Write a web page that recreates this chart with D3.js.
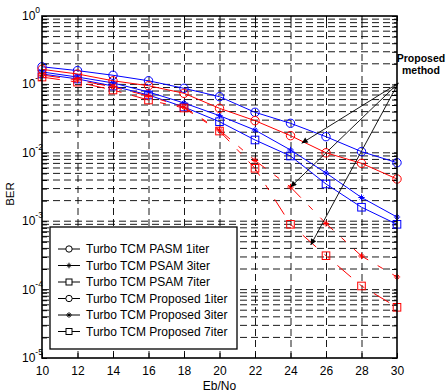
<!DOCTYPE html>
<html><head><meta charset="utf-8">
<script src="https://cdn.jsdelivr.net/npm/d3@7"></script>
<style>
body{margin:0;background:#fff}
svg{display:block}
text{font-family:"Liberation Sans",Arial,sans-serif;fill:#000}
</style>
</head><body>
<svg id="c" width="447" height="392"></svg>
<script>
// ---------------- data ----------------
const ebno = [10, 12, 14, 16, 18, 20, 22, 24, 26, 28, 30];
const pasm1 = [0.181, 0.159, 0.136, 0.113, 0.0877, 0.0661, 0.0391, 0.0270, 0.0172, 0.0104, 0.00717];
const pasm3 = [0.152, 0.128, 0.105, 0.0774, 0.0535, 0.0349, 0.0215, 0.0110, 0.00507, 0.00222, 0.00115];
const pasm7 = [0.142, 0.120, 0.0947, 0.0700, 0.0467, 0.0285, 0.0154, 0.00898, 0.00350, 0.00160, 0.000901];
const prop1 = [0.166, 0.142, 0.113, 0.0957, 0.0741, 0.0447, 0.0295, 0.0178, 0.0100, 0.00702, 0.00414];
const prop3 = [0.137, 0.116, 0.0916, 0.0677, 0.0467, 0.0215, 0.00772, 0.00316, 0.000926, 0.000310, 0.000153];
const prop7 = [0.128, 0.108, 0.0828, 0.0591, 0.0452, 0.0208, 0.00594, 0.000901, 0.000313, 0.000113, 0.0000551];

const xTicks = [10, 12, 14, 16, 18, 20, 22, 24, 26, 28, 30];
const yExponents = [0, -1, -2, -3, -4, -5];
const legendLabels = [
  "Turbo TCM PASM 1iter",
  "Turbo TCM PSAM 3iter",
  "Turbo TCM PSAM 7iter",
  "Turbo TCM Proposed 1iter",
  "Turbo TCM Proposed 3iter",
  "Turbo TCM Proposed 7iter"
];
const annotationLines = ["Proposed", "method"];
// annotation arrows in data space: origin and targets
const arrowFrom = [30.07, 0.104];
const arrowTo = [[24.63, 0.0138], [24.0, 0.00316], [25.14, 0.000449]];

// ---------------- setup ----------------
const series = [
  {vals: pasm1, color: "#0000ff", marker: "circle", dash: null},
  {vals: pasm3, color: "#0000ff", marker: "star", dash: null},
  {vals: pasm7, color: "#0000ff", marker: "square", dash: null},
  {vals: prop1, color: "#ff0000", marker: "circle", dash: null},
  {vals: prop3, color: "#ff0000", marker: "star", dash: "18,11,6,11"},
  {vals: prop7, color: "#ff0000", marker: "square", dash: "18,11,6,11"}
];

const svg = d3.select("#c");
const L = 42, R = 397, T = 16, B = 358;
const x = d3.scaleLinear().domain([10, 30]).range([L, R]);
const y = d3.scaleLog().domain([1e-5, 1]).range([B, T]);

const allY = [];
for (let e = -5; e < 0; e++) for (let k = 1; k < 10; k++) allY.push(k * Math.pow(10, e));
allY.push(1);

// ---------------- grid ----------------
const grid = svg.append("g").attr("stroke", "#000").attr("stroke-width", 0.9).attr("stroke-dasharray", "7,4");
grid.selectAll("line.h").data(allY.filter(v => v > 1.0001e-5 && v < 0.9999)).enter().append("line")
  .attr("x1", L).attr("x2", R).attr("y1", d => y(d)).attr("y2", d => y(d));
grid.selectAll("line.v").data(xTicks.filter(v => v > 10 && v < 30)).enter().append("line")
  .attr("x1", d => x(d) + 0.5).attr("x2", d => x(d) + 0.5).attr("y1", B).attr("y2", T);

// ---------------- axes (ticks inward) ----------------
const axB = svg.append("g").attr("transform", `translate(0,${B})`)
  .call(d3.axisBottom(x).tickValues(xTicks).tickSize(-5).tickPadding(8).tickFormat(d3.format("d")));
const axT = svg.append("g").attr("transform", `translate(0,${T})`)
  .call(d3.axisTop(x).tickValues(xTicks).tickSize(-5).tickFormat(""));
const axL = svg.append("g").attr("transform", `translate(${L},0)`)
  .call(d3.axisLeft(y).tickValues(allY).tickSize(-5).tickFormat(""));
const axR = svg.append("g").attr("transform", `translate(${R},0)`)
  .call(d3.axisRight(y).tickValues(allY).tickSize(-5).tickFormat(""));
[axB, axT, axL, axR].forEach(a => {
  a.select(".domain").remove();
  a.selectAll(".tick line").attr("stroke", "#000").attr("stroke-width", 1);
});
axB.selectAll(".tick text").attr("font-size", 12).attr("font-family", "Liberation Sans, Arial, sans-serif");

// y tick labels 10^e
const yl = svg.append("g");
yExponents.forEach(e => {
  const t = yl.append("text").attr("x", 22).attr("y", y(Math.pow(10, e)) + 4).attr("font-size", 12);
  t.append("tspan").text("10");
  t.append("tspan").attr("dy", -7).attr("font-size", 8.5).text(e === 0 ? "0" : "-" + Math.abs(e));
});

// axis labels
svg.append("text").attr("x", (L + R) / 2).attr("y", 390).attr("text-anchor", "middle")
  .attr("font-size", 12).text("Eb/No");
svg.append("text").attr("transform", `translate(14,${(T + B) / 2 + 7}) rotate(-90)`)
  .attr("text-anchor", "middle").attr("font-size", 11.5).text("BER");

// ---------------- markers ----------------
function drawMarker(g, type, cx, cy, color, s, fill) {
  if (type === "circle") {
    g.append("circle").attr("cx", cx).attr("cy", cy).attr("r", s)
      .attr("fill", fill).attr("stroke", color).attr("stroke-width", 1);
  } else if (type === "square") {
    g.append("rect").attr("x", cx - s).attr("y", cy - s).attr("width", 2 * s).attr("height", 2 * s)
      .attr("fill", fill).attr("stroke", color).attr("stroke-width", 1);
  } else {
    const a = s * 0.8, b = s;
    g.append("path").attr("d",
      `M${cx - b},${cy}L${cx + b},${cy}M${cx},${cy - b}L${cx},${cy + b}M${cx - a * 0.75},${cy - a * 0.75}L${cx + a * 0.75},${cy + a * 0.75}M${cx - a * 0.75},${cy + a * 0.75}L${cx + a * 0.75},${cy - a * 0.75}`)
      .attr("stroke", color).attr("stroke-width", 1).attr("fill", "none");
  }
}

// ---------------- series ----------------
const line = d3.line().x(d => x(d[0])).y(d => y(d[1]));
const plot = svg.append("g");
series.forEach(s => {
  const pts = ebno.map((e, i) => [e, s.vals[i]]);
  plot.append("path").attr("d", line(pts)).attr("fill", "none")
    .attr("stroke", s.color).attr("stroke-width", 1)
    .attr("stroke-dasharray", s.dash);
  const mg = plot.append("g");
  pts.forEach(p => drawMarker(mg, s.marker, x(p[0]), y(p[1]), s.color,
    s.marker === "circle" ? 4.2 : (s.marker === "square" ? 3.8 : 3.2), "none"));
});

// ---------------- box ----------------
svg.append("rect").attr("x", L).attr("y", T).attr("width", R - L).attr("height", B - T)
  .attr("fill", "none").attr("stroke", "#000").attr("stroke-width", 1.6);

// ---------------- annotation ----------------
const defs = svg.append("defs");
defs.append("marker").attr("id", "ah").attr("viewBox", "0 0 10 10").attr("refX", 10).attr("refY", 5)
  .attr("markerWidth", 8).attr("markerHeight", 6).attr("markerUnits", "userSpaceOnUse").attr("orient", "auto")
  .append("path").attr("d", "M0,0L10,5L0,10Z").attr("fill", "#000");
const ann = svg.append("g");
arrowTo.forEach(t => {
  ann.append("line").attr("x1", x(arrowFrom[0])).attr("y1", y(arrowFrom[1]))
    .attr("x2", x(t[0])).attr("y2", y(t[1]))
    .attr("stroke", "#000").attr("stroke-width", 0.9).attr("marker-end", "url(#ah)");
});
annotationLines.forEach((tx, i) => {
  ann.append("text").attr("x", 421).attr("y", 62 + i * 11.5).attr("text-anchor", "middle")
    .attr("font-size", 10.5).attr("font-weight", "bold").text(tx);
});

// ---------------- legend ----------------
const lg = svg.append("g");
lg.append("rect").attr("x", 50).attr("y", 227).attr("width", 187).attr("height", 122)
  .attr("fill", "#fff").attr("stroke", "#000").attr("stroke-width", 1.3);
legendLabels.forEach((lab, i) => {
  const cy = 249 + i * 16.5;
  const s = series[i];
  lg.append("line").attr("x1", 58).attr("x2", 80).attr("y1", cy).attr("y2", cy)
    .attr("stroke", "#000").attr("stroke-width", 1);
  drawMarker(lg, s.marker, 69, cy, "#000", s.marker === "circle" ? 3.2 : (s.marker === "square" ? 3 : 2.8), "#fff");
  lg.append("text").attr("x", 86).attr("y", cy + 4.2).attr("font-size", 12).text(lab);
});
</script>
</body></html>
